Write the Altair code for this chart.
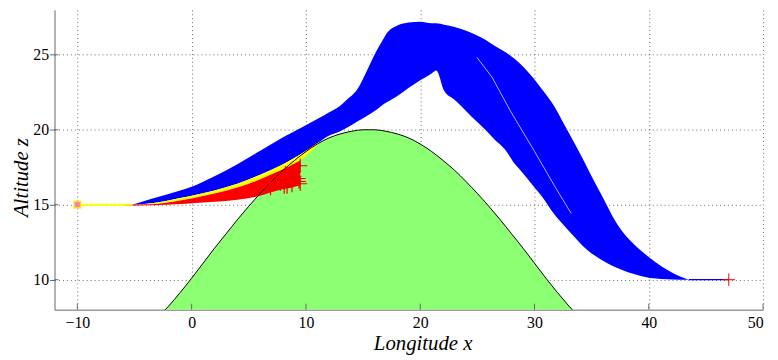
import altair as alt
import pandas as pd

# ---------------- data ----------------
# hill (terrain) profile
hill_x = [-2.5, -2, -1, 0, 1, 2, 3, 4, 5, 6, 7, 8, 9, 10, 11, 12, 13, 14, 15, 15.5,
          16, 17, 18, 19, 20, 21, 22, 23, 24, 25, 26, 27, 28, 29, 30, 31, 32, 33, 34]
hill_z = [7.85, 8.25, 9.15, 10.1, 11.1, 12.1, 13.05, 14.0, 14.9, 15.75, 16.55, 17.3, 17.95,
          18.55, 19.05, 19.45, 19.72, 19.9, 20.0, 20.0,
          20.0, 19.9, 19.72, 19.45, 19.05, 18.55, 17.95, 17.3, 16.55, 15.75, 14.9, 14.0,
          13.05, 12.1, 11.1, 10.1, 9.15, 8.25, 7.4]

# envelope of the blue (successful) trajectories
blue_x = [-5.2, -3.5, -1, 0, 2, 4, 6, 8, 9.5, 11.2, 12, 13, 13.5, 14.5, 15.5, 16.2, 16.7,
          17, 18, 19, 20, 21, 21.4, 22.1, 23, 24.8, 25.7, 26.5, 27.4, 28.3, 28.6, 30, 30.6,
          31.7, 32.6, 33.5, 34.3, 35.2, 35.8, 37.2, 39.3, 40.1, 42.1, 43.5]
blue_top = [15.0, 15.4, 15.95, 16.2, 16.9, 17.7, 18.6, 19.5, 20.1, 20.8, 21.15, 21.6,
            21.95, 22.7, 24.2, 25.3, 25.95, 26.35, 26.95, 27.15, 27.2, 27.1, 27.1, 27.0, 26.85,
            26.35, 26.0, 25.6, 25.2, 24.7, 24.5, 23.35, 22.75, 21.6, 20.35, 19.1, 17.95,
            16.6, 15.75, 13.75, 11.95, 11.45, 10.45, 10.0]
blue_bottom = [15.0, 15.1, 15.45, 15.6, 15.95, 16.4, 17.0, 17.7, 18.35, 19.2, 19.6, 19.9,
               20.1, 20.55, 21.0, 21.35, 21.65, 21.8, 22.25, 22.8, 23.3, 23.75, 23.95, 22.6,
               22.0, 20.65, 20.0, 19.35, 18.7, 17.7, 17.45, 16.15, 15.6, 14.4, 13.6, 12.85,
               12.2, 11.65, 11.35, 10.8, 10.25, 10.12, 10.02, 10.0]

# yellow band
yellow_x = [-5.2, -3.5, -1, 0, 2, 4, 6, 8, 9.5, 11.2]
yellow_top = [15.0, 15.1, 15.45, 15.6, 15.95, 16.4, 17.0, 17.7, 18.35, 19.2]
yellow_bottom = [15.0, 15.03, 15.28, 15.42, 15.75, 16.15, 16.7, 17.35, 17.95, 19.1]

# red band (trajectories that hit the terrain)
red_x = [-5.8, -3.5, -1, 0, 2, 4, 6, 7.5, 8.5, 9.5]
red_top = [15.0, 15.03, 15.28, 15.42, 15.75, 16.15, 16.7, 17.2, 17.55, 17.95]
red_bottom = [14.93, 14.97, 15.05, 15.1, 15.2, 15.33, 15.6, 15.95, 16.1, 16.3]

# crash points (red +)
crash_x = [9.5, 8.78, 8.65, 9.36, 8.2, 7.76, 8.78, 9.5, 8.35, 7.3, 8.1, 6.9, 9.4, 8.2, 9.0]
crash_z = [17.6, 17.2, 16.65, 16.75, 16.65, 16.4, 16.3, 16.4, 16.2, 16.4, 16.2, 16.1, 16.55, 17.1, 16.9]

# white streak inside the descending blue band
streak_x = [24.96, 26.28, 27.93, 30.0, 31.74, 33.21]
streak_z = [24.83, 23.51, 21.2, 18.56, 16.27, 14.42]

# start and target
start_x, start_z = -10, 15
lead_x = [-10, -5.2]
lead_z = [15, 15]
tail_x = [43.5, 47]
tail_z = [10, 10]
end_x, end_z = 47, 10

x_ticks = [-10, 0, 10, 20, 30, 40, 50]
y_ticks = [10, 15, 20, 25]

# ---------------- chart ----------------
W, H = 716, 303
xs = alt.Scale(domain=[-12, 50], nice=False, zero=False)
ys = alt.Scale(domain=[8, 28], nice=False, zero=False)

serif = "Liberation Serif"
xaxis = alt.Axis(values=x_ticks, title="Longitude x", grid=True, ticks=False,
                 labelPadding=5, titleX=372, titleY=34, titleBaseline="middle",
                 titleAlign="center")
yaxis = alt.Axis(values=y_ticks, title="Altitude z", grid=True, ticks=True, tickSize=5,
                 tickColor="#666666", labelPadding=1, titleX=-33, titleY=169,
                 titleAngle=270, titleBaseline="middle", titleAlign="center")


def X(f):
    return alt.X(f, type="quantitative", scale=xs, axis=xaxis)


def Y(f):
    return alt.Y(f, type="quantitative", scale=ys, axis=yaxis)


hill_df = pd.DataFrame({"x": hill_x, "z": hill_z})
blue_df = pd.DataFrame({"x": blue_x, "top": blue_top, "bot": blue_bottom})
yel_df = pd.DataFrame({"x": yellow_x, "top": yellow_top, "bot": yellow_bottom})
red_df = pd.DataFrame({"x": red_x, "top": red_top, "bot": red_bottom})
crash_df = pd.DataFrame({"x": crash_x, "z": crash_z})
streak_df = pd.DataFrame({"x": streak_x, "z": streak_z})
lead_df = pd.DataFrame({"x": lead_x, "z": lead_z})
tail_df = pd.DataFrame({"x": tail_x, "z": tail_z})
start_df = pd.DataFrame({"x": [start_x], "z": [start_z]})
end_df = pd.DataFrame({"x": [end_x], "z": [end_z]})
xt_df = pd.DataFrame({"x": x_ticks})
yt_df = pd.DataFrame({"z": y_ticks})

plus = "M-1,0L1,0M0,-1L0,1"

hill = alt.Chart(hill_df).mark_area(color="#8cff73", clip=True).encode(
    x=X("x"), y=Y("z"), y2=alt.datum(8))
blue = alt.Chart(blue_df).mark_area(color="#0000ff", clip=True, interpolate="monotone").encode(
    x=X("x"), y=Y("top"), y2="bot")
streak = alt.Chart(streak_df).mark_line(color="white", strokeWidth=1, opacity=0.7).encode(
    x=X("x"), y=Y("z"))
yel = alt.Chart(yel_df).mark_area(color="#ffff00", interpolate="monotone").encode(
    x=X("x"), y=Y("top"), y2="bot")
red = alt.Chart(red_df).mark_area(color="#ff0000", interpolate="monotone").encode(
    x=X("x"), y=Y("top"), y2="bot")
lead = alt.Chart(lead_df).mark_line(color="#ffff00", strokeWidth=2).encode(
    x=X("x"), y=Y("z"))
tail = alt.Chart(tail_df).mark_line(color="#0000ff", strokeWidth=1.2).encode(
    x=X("x"), y=Y("z"))
outline = alt.Chart(hill_df).mark_line(color="black", strokeWidth=1, clip=True,
                                       interpolate="monotone").encode(
    x=X("x"), y=Y("z"))
crash = alt.Chart(crash_df).mark_point(shape=plus, size=200, color="#ee0000",
                                       strokeWidth=1.2, filled=False, opacity=1).encode(
    x=X("x"), y=Y("z"))
start = alt.Chart(start_df).mark_point(shape="square", size=40, fill="#f080c0",
                                       stroke="#ffe000", strokeWidth=1.5,
                                       filled=True, opacity=1).encode(x=X("x"), y=Y("z"))
end = alt.Chart(end_df).mark_point(shape=plus, size=160, color="#ff0000",
                                   strokeWidth=1, filled=False, opacity=1).encode(
    x=X("x"), y=Y("z"))
xtick = alt.Chart(xt_df).mark_rule(color="#666666", strokeWidth=1).encode(
    x=X("x"), y=alt.value(H), y2=alt.value(H - 6))
ytick = alt.Chart(yt_df).mark_rule(color="#666666", strokeWidth=1).encode(
    y=Y("z"), x=alt.value(0), x2=alt.value(4))

chart = alt.layer(hill, blue, streak, yel, red, lead, tail, outline, xtick, ytick,
                  crash, start, end).properties(
    width=W, height=H,
    autosize=alt.AutoSizeParams(type="none"),
    padding={"left": 47, "top": 0, "right": 7, "bottom": 48},
).configure_view(strokeWidth=0).configure_axis(
    domainColor="#666666", domainWidth=1,
    gridColor="#444444", gridDash=[1, 3], gridWidth=1, gridOpacity=0.8,
    labelFont=serif, labelFontSize=16, labelColor="black",
    titleFont=serif, titleFontSize=21, titleFontStyle="italic",
    titleFontWeight="normal", titleColor="black",
)

chart.save("out.html", embed_options={"renderer": "svg", "actions": False})
